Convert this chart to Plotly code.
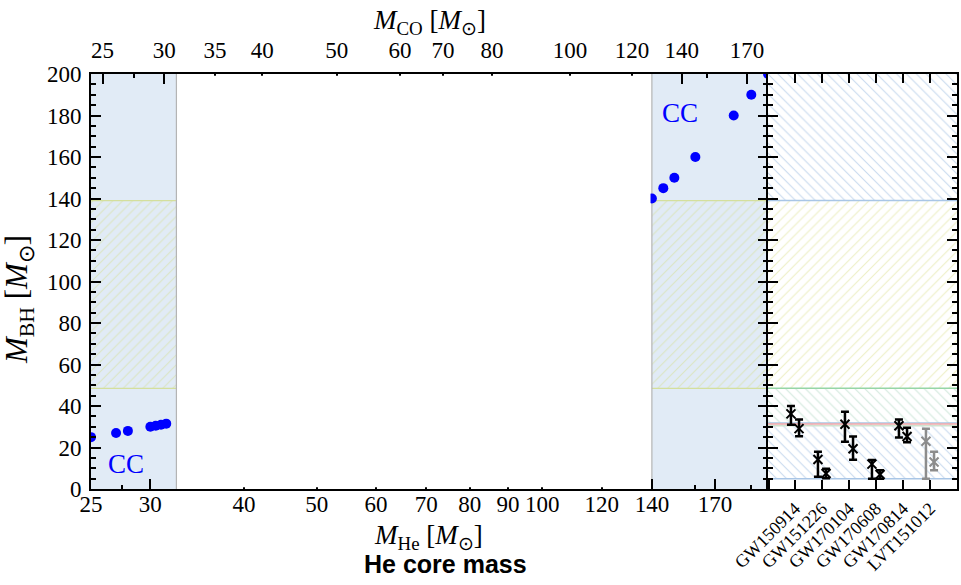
import numpy as np
import plotly.graph_objects as go

W, H = 961, 585

# ---------------- data ----------------
he_mass_low = [25, 27, 28, 30, 30.5, 31, 31.5]
bh_mass_low = [25, 27, 28, 30, 30.5, 31, 31.5]
he_mass_high = [140, 145, 150, 160, 180, 190, 200]
bh_mass_high = [140, 145, 150, 160, 180, 190, 200]

cc_regions = [(25, 32.5), (140, 200)]
gap_band = (48.5, 139)

he_range = (25, 200)
he_ticks = [25, 30, 40, 50, 60, 70, 80, 90, 100, 120, 140, 170]
he_minor_ticks = [27.5, 160, 190]
co_tick_labels = [25, 30, 35, 40, 50, 60, 70, 80, 100, 120, 140, 170]
co_tick_he = [25.9, 31.3, 36.6, 42.3, 53.2, 64.6, 73.7, 85.7, 108.9, 131.7, 153.5, 187.5]
co_minor_he = [28.5, 165.8]

events = ["GW150914", "GW151226", "GW170104", "GW170608", "GW170814", "LVT151012"]
m1 = [36.2, 14.2, 31.2, 12.0, 30.5, 23.0]
m1_up = [3.8, 3.7, 6.0, 2.0, 3.0, 6.0]
m1_dn = [5.2, 8.3, 8.4, 7.0, 5.7, 18.0]
m2 = [29.1, 7.5, 19.4, 7.0, 25.3, 13.0]
m2_up = [4.4, 2.3, 5.9, 2.0, 4.2, 5.0]
m2_dn = [3.7, 2.3, 5.3, 2.0, 2.8, 4.0]

right_bands = [  # (low, high, hatch, colour)
    (139, 200, "\\", "#c8daef"),
    (48.5, 139, "/", "#eef0c6"),
    (31.5, 48.5, "\\", "#d0e8dc"),
    (5, 31.5, "\\", "#c8daef"),
]
right_lines = [  # (value, colour)
    (139, "#a9c6e6"),
    (48.5, "#96d6a6"),
    (31.8, "#a9c6e6"),
    (31.3, "#f2a8a8"),
    (30.5, "#cfe2cf"),
    (5, "#a9c6e6"),
]

# ---------------- styles ----------------
SERIF = "Liberation Serif"
CC_BLUE = "#e1ebf6"
HATCH_YG = "#dbe5c2"
EDGE_YG = "#d4df9c"

fig = go.Figure()


def rect(x0, x1, y0, y1, xa, ya, **kw):
    return go.Scatter(x=[x0, x1, x1, x0, x0], y=[y0, y0, y1, y1, y0],
                      fill="toself", mode="lines", line=dict(width=0),
                      hoverinfo="skip", showlegend=False, xaxis=xa, yaxis=ya, **kw)


def hline(x0, x1, y, color, xa, ya, width=1.2):
    return go.Scatter(x=[x0, x1], y=[y, y], mode="lines", line=dict(color=color, width=width),
                      hoverinfo="skip", showlegend=False, xaxis=xa, yaxis=ya)


# main panel shaded CC regions
for (a, b) in cc_regions:
    fig.add_trace(rect(a, b, 0, 200, "x", "y", fillcolor=CC_BLUE))
    fig.add_trace(rect(a, b, gap_band[0], gap_band[1], "x", "y", fillcolor=CC_BLUE,
                       fillpattern=dict(shape="/", fgcolor=HATCH_YG, bgcolor=CC_BLUE,
                                        size=7, solidity=0.15)))
    for g in gap_band:
        fig.add_trace(hline(a, b, g, EDGE_YG, "x", "y"))
# grey borders of CC regions toward the gap
for xb in (cc_regions[0][1], cc_regions[1][0]):
    fig.add_trace(go.Scatter(x=[xb, xb], y=[0, 200], mode="lines",
                             line=dict(color="#b4b4b4", width=1.2), hoverinfo="skip",
                             showlegend=False, xaxis="x", yaxis="y"))

# BH points
fig.add_trace(go.Scatter(x=he_mass_low + he_mass_high, y=bh_mass_low + bh_mass_high,
                         mode="markers", marker=dict(color="#0000ff", size=10),
                         showlegend=False, xaxis="x", yaxis="y"))
# dummy for top axis
fig.add_trace(go.Scatter(x=[he_range[0]], y=[0], mode="markers", marker=dict(opacity=0),
                         showlegend=False, hoverinfo="skip", xaxis="x2", yaxis="y"))

# right panel bands
n_ev = len(events)
for (lo, hi, hatch, col) in right_bands:
    fig.add_trace(rect(0, n_ev + 1, lo, hi, "x3", "y2", fillcolor="white",
                       fillpattern=dict(shape=hatch, fgcolor=col, bgcolor="white",
                                        size=7, solidity=0.15)))
for (v, col) in right_lines:
    fig.add_trace(hline(0, n_ev + 1, v, col, "x3", "y2", width=1.5))

# GW events
pos = np.arange(1, n_ev + 1)
off = 0.15
for sel, col in ((slice(0, 5), "black"), (slice(5, 6), "#8c8c8c")):
    for (vals, up, dn, sgn) in ((m1, m1_up, m1_dn, -1), (m2, m2_up, m2_dn, 1)):
        fig.add_trace(go.Scatter(
            x=pos[sel] + sgn * off, y=vals[sel], mode="markers",
            marker=dict(symbol="x-thin", size=9, line=dict(color=col, width=2), color=col),
            error_y=dict(type="data", array=up[sel], arrayminus=dn[sel],
                         thickness=2.5, width=4, color=col),
            showlegend=False, xaxis="x3", yaxis="y2"))

# ---------------- layout ----------------
tickfont = dict(family=SERIF, size=23, color="black")
ydom = [(H - 489) / H, (H - 74) / H]
lg = np.log10(he_range)

common_line = dict(showline=True, linecolor="black", linewidth=2, showgrid=False,
                   zeroline=False, tickcolor="black", tickwidth=1.5, automargin=False)

fig.update_layout(
    template="none",
    width=W, height=H, margin=dict(l=0, r=0, t=0, b=0, pad=0),
    paper_bgcolor="white", plot_bgcolor="white", showlegend=False,
    xaxis=dict(type="log", range=list(lg), domain=[91 / W, 768 / W], anchor="y",
               tickmode="array", tickvals=he_ticks, ticktext=[str(t) for t in he_ticks],
               ticks="inside", ticklen=10, tickfont=tickfont, ticklabelstandoff=-7,
               minor=dict(tickmode="array", tickvals=he_minor_ticks, ticks="inside",
                          ticklen=4, tickcolor="black", tickwidth=1.5, showgrid=False),
               **common_line),
    xaxis2=dict(type="log", range=list(lg), overlaying="x", side="top", anchor="y",
                tickmode="array", tickvals=co_tick_he, ticktext=[str(t) for t in co_tick_labels],
                ticks="inside", ticklen=10, tickfont=tickfont, ticklabelstandoff=5,
                minor=dict(tickmode="array", tickvals=co_minor_he, ticks="inside",
                           ticklen=4, tickcolor="black", tickwidth=1.5, showgrid=False),
                **common_line),
    yaxis=dict(range=[0, 200], domain=ydom, anchor="x", tickmode="linear", tick0=0, dtick=20,
               ticks="inside", ticklen=10, mirror="ticks", tickfont=tickfont, ticklabelstandoff=3,
               minor=dict(dtick=5, ticks="inside", ticklen=5, tickcolor="black",
                          tickwidth=1.5, showgrid=False),
               **common_line),
    xaxis3=dict(range=[0, n_ev + 1], domain=[768 / W, 957 / W], anchor="y2",
                tickmode="array", tickvals=list(pos), ticktext=events, tickangle=-45,
                ticks="inside", ticklen=9, mirror="ticks",
                tickfont=dict(family=SERIF, size=18, color="black"), **common_line),
    yaxis2=dict(range=[0, 200], domain=ydom, anchor="x3", tickmode="linear", tick0=0, dtick=20,
                ticks="inside", ticklen=10, mirror="ticks", showticklabels=False,
                minor=dict(dtick=5, ticks="inside", ticklen=5, tickcolor="black",
                           tickwidth=1.5, showgrid=False),
                **common_line),
)

# white cover over the gap (hides ticks there, as in the reference)
span = lg[1] - lg[0]
fx0 = (np.log10(cc_regions[0][1]) - lg[0]) / span + 0.002
fx1 = (np.log10(cc_regions[1][0]) - lg[0]) / span - 0.002
fig.add_shape(type="rect", xref="x domain", yref="y domain", x0=fx0, x1=fx1,
              y0=0.004, y1=0.996, fillcolor="white", line=dict(width=0), layer="above")

msun = "[<i>M</i><sub>⊙</sub>]"
ann_kw = dict(xref="paper", yref="paper", showarrow=False, xanchor="center", yanchor="middle",
              borderpad=0)
fig.add_annotation(text="<i>M</i><sub>BH</sub> " + msun, x=19 / W, y=1 - 300 / H,
                   textangle=-90, font=dict(family=SERIF, size=31, color="black"), **ann_kw)
fig.add_annotation(text="<i>M</i><sub>He</sub> " + msun, x=428 / W, y=1 - 537 / H,
                   font=dict(family=SERIF, size=27, color="black"), **ann_kw)
fig.add_annotation(text="<i>M</i><sub>CO</sub> " + msun, x=429 / W, y=1 - 22 / H,
                   font=dict(family=SERIF, size=27, color="black"), **ann_kw)
fig.add_annotation(text="<b>He core mass</b>", x=445 / W, y=1 - 564 / H,
                   font=dict(family="Liberation Sans", size=25, color="black"), **ann_kw)

cc_pos = [(27.8, 12), (152.7, 181)]
for (cx, cy) in cc_pos:
    fig.add_annotation(text="CC", x=np.log10(cx), y=cy, xref="x", yref="y", showarrow=False,
                       xanchor="center", yanchor="middle",
                       font=dict(family=SERIF, size=27, color="#0000ff"))

fig.write_html("out.html", config={"displayModeBar": False},
               post_script="document.body.style.margin='0';")
